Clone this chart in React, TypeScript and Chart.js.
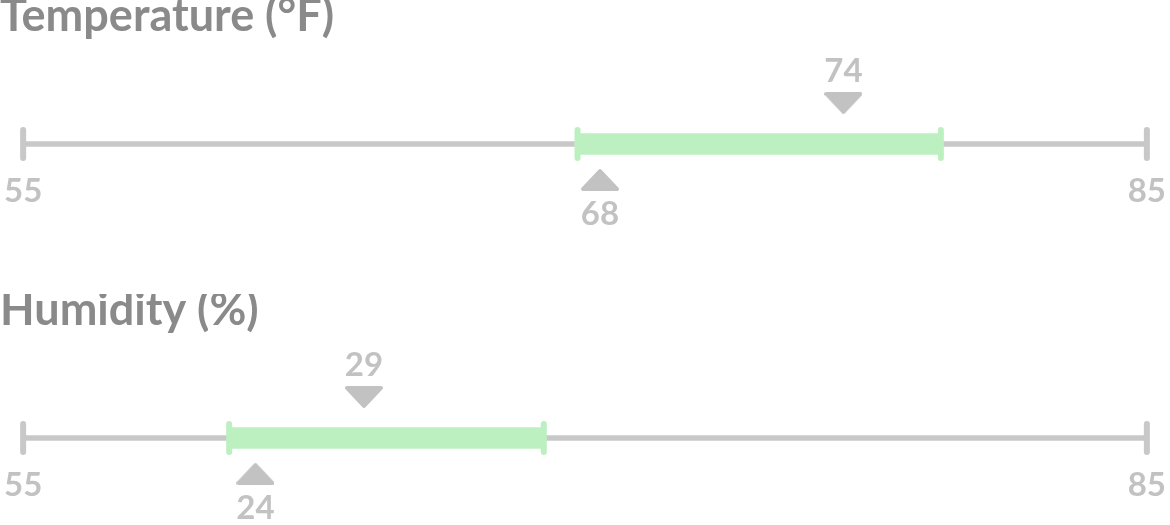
import React, { useEffect, useRef } from 'react';
import { Chart, registerables } from 'chart.js';

Chart.register(...registerables);

// ---- data ----
const axisMin = 55;
const axisMax = 85;
const axisTicks = [55, 85];
const gaugeTitles = ['Temperature (°F)', 'Humidity (%)'];
const rangeStart = [69.8, 60.5];
const rangeEnd = [79.5, 68.9];
const upperMarkerValues = [76.9, 64.1];
const upperMarkerLabels = ['74', '29'];
const lowerMarkerValues = [70.4, 61.2];
const lowerMarkerLabels = ['68', '24'];

// ---- styles ----
const FONT = 'Lato, "Open Sans", sans-serif';
const TITLE_COLOR = '#8a8a8a';
const LIGHT = '#c2c2c2';
const TRACK = '#c8c8c8';
const GREEN = '#bdf0c0';
const W = 1170;
const H = 294;
const NUM_SIZE = 33;

function makeTriangle(pointUp: boolean, height: number, triTop: number): HTMLCanvasElement {
  const c = document.createElement('canvas');
  c.width = 38;
  c.height = height;
  const ctx = c.getContext('2d')!;
  ctx.fillStyle = LIGHT;
  ctx.strokeStyle = LIGHT;
  ctx.lineWidth = 4;
  ctx.lineJoin = 'round';
  const t = triTop + 2;
  const b = triTop + 20;
  ctx.beginPath();
  if (pointUp) {
    ctx.moveTo(19, t);
    ctx.lineTo(36, b);
    ctx.lineTo(2, b);
  } else {
    ctx.moveTo(2, t);
    ctx.lineTo(36, t);
    ctx.lineTo(19, b);
  }
  ctx.closePath();
  ctx.fill();
  ctx.stroke();
  return c;
}

const roundCapPlugin = {
  id: 'roundCaps',
  beforeDatasetDraw(chart: any, args: any) {
    const ds = chart.data.datasets[args.index];
    if (ds.roundCaps) {
      chart.ctx.save();
      chart.ctx.lineCap = 'round';
    }
  },
  afterDatasetDraw(chart: any, args: any) {
    const ds = chart.data.datasets[args.index];
    if (ds.roundCaps) chart.ctx.restore();
  },
};

const markerLabelPlugin = {
  id: 'markerLabels',
  afterDatasetsDraw(chart: any) {
    const ctx = chart.ctx;
    chart.data.datasets.forEach((ds: any, i: number) => {
      if (!ds.markerLabels) return;
      const meta = chart.getDatasetMeta(i);
      meta.data.forEach((el: any, j: number) => {
        ctx.save();
        ctx.font = `bold ${NUM_SIZE}px ${FONT}`;
        ctx.fillStyle = LIGHT;
        ctx.textAlign = 'center';
        ctx.textBaseline = 'alphabetic';
        ctx.fillText(ds.markerLabels[j], el.x, el.y + ds.labelOffset);
        ctx.restore();
      });
    });
  },
};

function Gauge({ index }: { index: number }) {
  const ref = useRef<HTMLCanvasElement | null>(null);
  useEffect(() => {
    if (!ref.current) return;
    const title = gaugeTitles[index];
    const upImg = makeTriangle(true, 94, 72);
    const downImg = makeTriangle(false, 104, 0);
    const chart = new Chart(ref.current, {
      type: 'bar',
      data: {
        labels: [title],
        datasets: [
          {
            type: 'line',
            data: [{ x: upperMarkerValues[index], y: title }],
            showLine: false,
            pointStyle: downImg,
            pointRadius: 10,
            clip: false,
            order: 0,
            markerLabels: [upperMarkerLabels[index]],
            labelOffset: -62,
          } as any,
          {
            type: 'line',
            data: [{ x: lowerMarkerValues[index], y: title }],
            showLine: false,
            pointStyle: upImg,
            pointRadius: 10,
            clip: false,
            order: 0,
            markerLabels: [lowerMarkerLabels[index]],
            labelOffset: 81,
          } as any,
          {
            type: 'line',
            data: [
              { x: rangeStart[index], y: title },
              { x: rangeEnd[index], y: title },
            ],
            showLine: false,
            pointStyle: 'line',
            pointRotation: 90,
            pointRadius: 14,
            pointBorderWidth: 6,
            pointBorderColor: GREEN,
            pointBackgroundColor: GREEN,
            borderWidth: 6,
            clip: false,
            order: 1,
            roundCaps: true,
          } as any,
          {
            type: 'line',
            data: [
              { x: axisMin, y: title },
              { x: axisMax, y: title },
            ],
            showLine: false,
            pointStyle: 'line',
            pointRotation: 90,
            pointRadius: 14,
            pointBorderWidth: 6,
            pointBorderColor: TRACK,
            pointBackgroundColor: TRACK,
            borderWidth: 6,
            clip: false,
            order: 1,
            roundCaps: true,
          } as any,
          {
            type: 'bar',
            indexAxis: 'y',
            data: [[rangeStart[index], rangeEnd[index]]],
            backgroundColor: GREEN,
            barThickness: 21,
            grouped: false,
            borderSkipped: false,
            clip: false,
            order: 2,
          } as any,
          {
            type: 'bar',
            indexAxis: 'y',
            data: [[axisMin, axisMax]],
            backgroundColor: TRACK,
            barThickness: 5,
            grouped: false,
            borderSkipped: false,
            clip: false,
            order: 3,
          } as any,
        ],
      },
      options: {
        animation: false,
        responsive: false,
        layout: { padding: { left: 0, right: 0, top: 0, bottom: 78.7 } },
        plugins: {
          legend: { display: false },
          tooltip: { enabled: false },
          title: {
            display: true,
            text: title,
            align: 'start',
            color: TITLE_COLOR,
            font: { family: FONT, size: 45, weight: 'bold', lineHeight: 0.75 },
            padding: { top: 0, bottom: 86.55 },
          },
        },
        scales: {
          x: {
            type: 'linear',
            min: axisMin,
            max: axisMax,
            offset: false,
            grid: { display: false, drawTicks: false },
            border: { display: false },
            afterBuildTicks: (scale: any) => {
              scale.ticks = axisTicks.map((v) => ({ value: v }));
            },
            ticks: {
              autoSkip: false,
              maxRotation: 0,
              padding: 4,
              color: LIGHT,
              font: { family: FONT, size: NUM_SIZE, weight: 'bold', lineHeight: 1.2 },
            },
          },
          y: {
            type: 'category',
            labels: [title],
            offset: true,
            display: false,
          },
        },
      } as any,
      plugins: [roundCapPlugin, markerLabelPlugin],
    });
    return () => chart.destroy();
  }, [index]);
  return <canvas ref={ref} width={W} height={H} style={{ display: 'block', width: W, height: H }} />;
}

export default function App() {
  useEffect(() => {
    document.body.style.margin = '0';
    document.body.style.overflow = 'hidden';
  }, []);
  return (
    <div style={{ width: W, height: 525, overflow: 'hidden', background: '#ffffff' }}>
      <Gauge index={0} />
      <Gauge index={1} />
    </div>
  );
}
